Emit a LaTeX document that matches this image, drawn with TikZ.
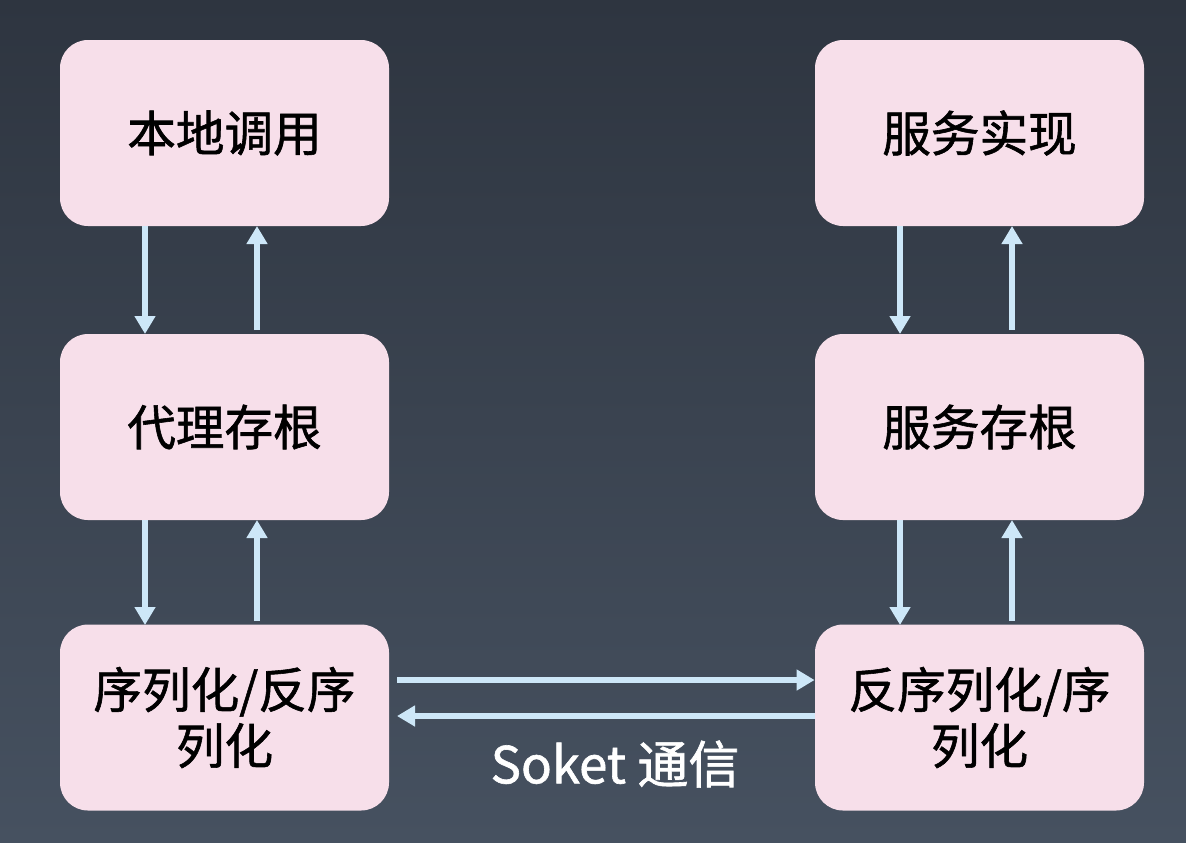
\documentclass[tikz,border=0pt]{standalone}
\usepackage{fontspec}
\setmainfont{Noto Sans CJK SC}[FakeBold=1.2]
\usetikzlibrary{arrows.meta}
\definecolor{bgtop}{HTML}{2E3540}
\definecolor{bgbot}{HTML}{465160}
\definecolor{boxfill}{HTML}{F7DFEA}
\definecolor{arrowc}{HTML}{CDE7F8}
\tikzset{
  box/.style={fill=boxfill, rounded corners=14pt, minimum width=164.5pt, minimum height=93pt, inner sep=0pt, align=center, font=\fontsize{24.3pt}{28pt}\selectfont, text=black},
  flow/.style={draw=arrowc, line width=2.6pt, -{Triangle[width=10pt,length=9pt]}}
}
\begin{document}
\begin{tikzpicture}[x=0.5pt,y=-0.5pt]
\shade[top color=bgtop, bottom color=bgbot] (0,0) rectangle (1186,842);
\useasboundingbox (0,0) rectangle (1186,842);
\node[box] (a1) at (224.5,133) {本地调用};
\node[box] (a2) at (224.5,427) {代理存根};
\node[box] (a3) at (224.5,717.5) {序列化/反序\\列化};
\node[box] (b1) at (979.5,133) {服务实现};
\node[box] (b2) at (979.5,427) {服务存根};
\node[box] (b3) at (979.5,717.5) {反序列化/序\\列化};
% left column
\draw[flow] (145,226) -- (145,334);
\draw[flow] (257,330) -- (257,226);
\draw[flow] (145,520) -- (145,625);
\draw[flow] (257,621) -- (257,520);
% right column
\draw[flow] (900,226) -- (900,334);
\draw[flow] (1012,330) -- (1012,226);
\draw[flow] (900,520) -- (900,625);
\draw[flow] (1012,621) -- (1012,520);
% horizontal
\coordinate (h1s) at (397,680);
\coordinate (h2e) at (397,716);
\draw[flow] (h1s) -- (b3.west |- h1s);
\draw[flow] (b3.west |- h2e) -- (h2e);
\node[text=white, font=\fontsize{25.5pt}{28pt}\selectfont] (lbl) at (615,764) {Soket 通信};
\end{tikzpicture}
\end{document}
